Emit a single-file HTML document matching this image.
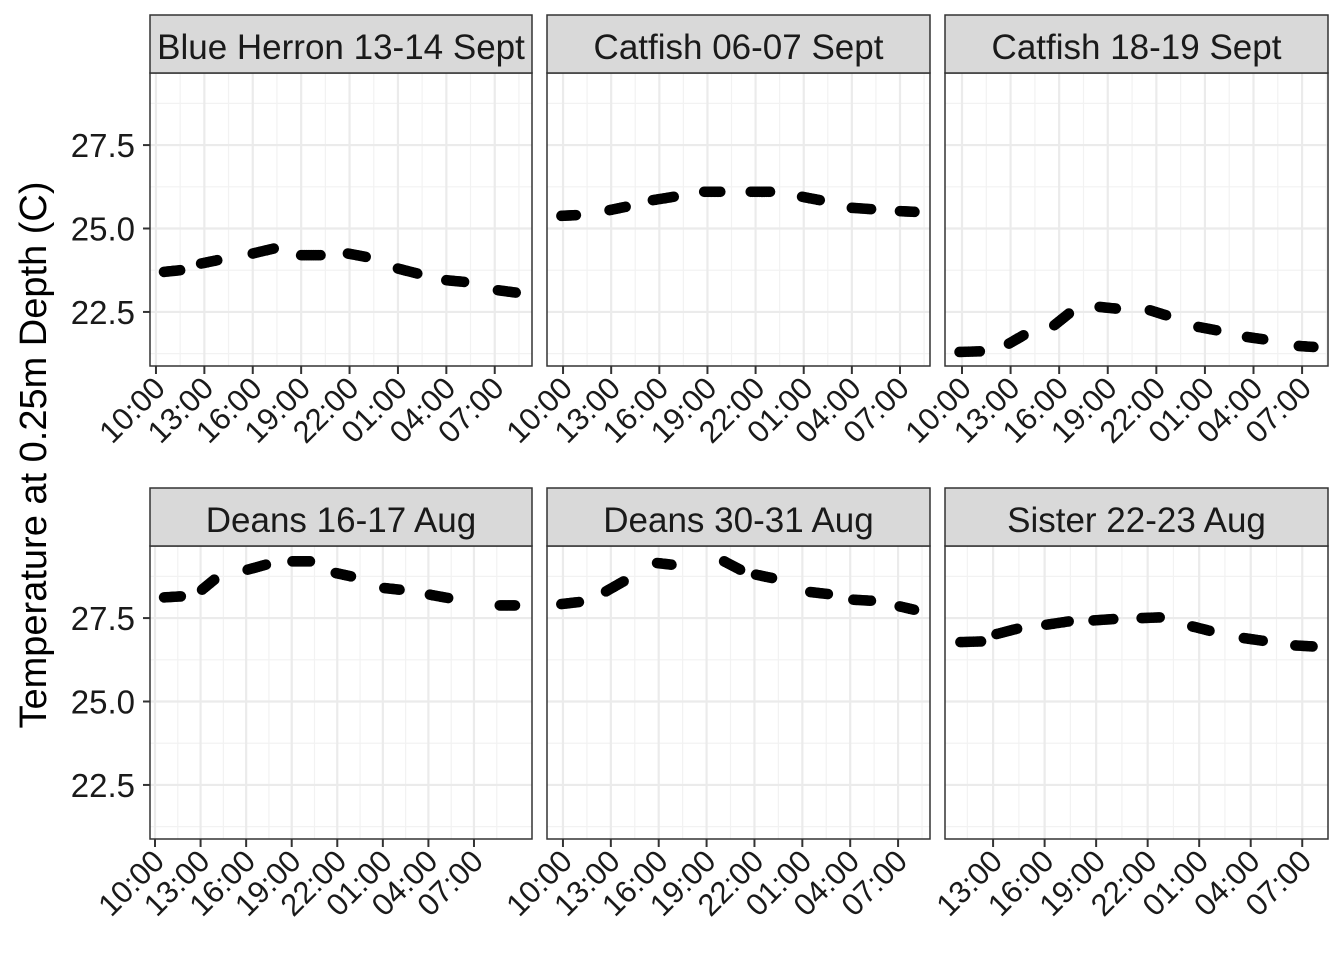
<!DOCTYPE html>
<html><head><meta charset="utf-8"><style>
body{margin:0;background:#fff}
svg{display:block;font-family:"Liberation Sans",Arial,sans-serif}
</style></head><body>
<svg id="chart" width="1344" height="960"></svg>
<script>
const panelTitles=["Blue Herron 13-14 Sept","Catfish 06-07 Sept","Catfish 18-19 Sept","Deans 16-17 Aug","Deans 30-31 Aug","Sister 22-23 Aug"];
const tickLabels=["10:00","13:00","16:00","19:00","22:00","01:00","04:00","07:00"];
const tickHours=[0,3,6,9,12,15,18,21];
const yTicks=[22.5,25.0,27.5];
const yMinor=[21.25,23.75,26.25,28.75];
const yDomain=[20.88,29.66];
const xDomains=[[-0.37,23.31],[-1.0,22.87],[-1.05,22.6],[-0.33,24.82],[-1.0,23.0],[0.2,22.5]];
// clusters: [tStart,tEnd] and [tempStart,tempEnd] per sampling burst (hours since 10:00)
const times1=[[0.5,1.5],[2.8,3.8],[6.0,7.3],[9.0,10.2],[11.9,13.0],[15.0,16.2],[18.0,19.1],[21.2,22.3]];
const temps1=[[23.7,23.75],[23.95,24.05],[24.25,24.4],[24.2,24.2],[24.25,24.15],[23.8,23.65],[23.45,23.4],[23.15,23.08]];
const times2=[[-0.1,0.8],[2.9,3.9],[5.6,6.9],[8.8,9.8],[11.7,12.9],[14.9,16.0],[18.0,19.2],[21.0,21.9]];
const temps2=[[25.38,25.4],[25.55,25.65],[25.85,25.95],[26.1,26.1],[26.1,26.1],[25.95,25.85],[25.62,25.58],[25.52,25.5]];
const times3=[[-0.15,1.1],[2.9,3.8],[5.7,6.6],[8.5,9.5],[11.6,12.6],[14.6,15.7],[17.6,18.6],[20.8,21.7]];
const temps3=[[21.3,21.32],[21.55,21.8],[22.1,22.45],[22.65,22.6],[22.55,22.4],[22.05,21.95],[21.75,21.68],[21.48,21.45]];
const times4=[[0.6,1.7],[3.1,3.9],[6.1,7.3],[9.05,10.2],[11.9,12.9],[15.1,16.1],[18.1,19.3],[22.7,23.7]];
const temps4=[[28.12,28.15],[28.35,28.65],[28.95,29.1],[29.2,29.2],[28.85,28.75],[28.4,28.35],[28.2,28.1],[27.88,27.88]];
const times5=[[-0.1,1.0],[2.7,3.8],[5.9,6.8],[10.1,11.1],[12.1,13.1],[15.5,16.6],[18.2,19.3],[21.1,22.0]];
const temps5=[[27.92,27.98],[28.3,28.6],[29.15,29.1],[29.2,28.95],[28.8,28.7],[28.28,28.22],[28.05,28.02],[27.85,27.75]];
const times6=[[1.1,2.3],[3.2,4.4],[6.1,7.4],[8.85,10.0],[11.65,12.7],[14.6,15.6],[17.6,18.7],[20.6,21.6]];
const temps6=[[26.78,26.8],[27.02,27.18],[27.3,27.4],[27.43,27.47],[27.5,27.52],[27.25,27.12],[26.9,26.82],[26.68,26.65]];
const allTimes=[times1,times2,times3,times4,times5,times6];
const allTemps=[temps1,temps2,temps3,temps4,temps5,temps6];

const NS="http://www.w3.org/2000/svg";
const svg=document.getElementById("chart");
function mk(tag,attrs,parent){const e=document.createElementNS(NS,tag);for(const k in attrs)e.setAttribute(k,attrs[k]);(parent||svg).appendChild(e);return e;}
const colX=[[150,532],[547,930],[945,1328]];
const rowY=[[15,73,366],[488,546,839]];
const yt=mk("text",{x:0,y:0,transform:"translate(46,455) rotate(-90)","text-anchor":"middle","font-size":"38",fill:"#000"});
yt.textContent="Temperature at 0.25m Depth (C)";


for(let p=0;p<6;p++){
  const c=p%3,r=Math.floor(p/3);
  const [x0,x1]=colX[c],[sy,y0,y1]=rowY[r];
  const g=mk("g",{});
  
  
  const [d0,d1]=xDomains[p];
  const xs=t=>x0+(t-d0)/(d1-d0)*(x1-x0);
  const ys=v=>y1-(v-yDomain[0])/(yDomain[1]-yDomain[0])*(y1-y0);
  mk("rect",{x:x0,y:y0,width:x1-x0,height:y1-y0,fill:"#fff"},g);
  yMinor.forEach(v=>mk("line",{x1:x0,x2:x1,y1:ys(v),y2:ys(v),stroke:"#f2f2f2","stroke-width":1.2},g));
  const ticks=tickHours.map((h,i)=>[h,tickLabels[i]]).filter(([h])=>h>=d0&&h<=d1);
  for(let h=-1.5;h<=25;h+=3){if(h>d0&&h<d1)mk("line",{x1:xs(h),x2:xs(h),y1:y0,y2:y1,stroke:"#f2f2f2","stroke-width":1.2},g);}
  yTicks.forEach(v=>mk("line",{x1:x0,x2:x1,y1:ys(v),y2:ys(v),stroke:"#ebebeb","stroke-width":2.2},g));
  ticks.forEach(([h])=>mk("line",{x1:xs(h),x2:xs(h),y1:y0,y2:y1,stroke:"#ebebeb","stroke-width":2.2},g));
  const T=allTimes[p],V=allTemps[p];
  for(let k=0;k<T.length;k++){
    const n=12;
    for(let j=0;j<n;j++){
      const f=j/(n-1);
      const cir=mk("circle",{cx:xs(T[k][0]+(T[k][1]-T[k][0])*f),cy:ys(V[k][0]+(V[k][1]-V[k][0])*f),r:5.3,fill:"#000"},g);
      
      
    }
  }
  mk("rect",{x:x0,y:y0,width:x1-x0,height:y1-y0,fill:"none",stroke:"#333","stroke-width":1.5},g);
  const st=mk("rect",{x:x0,y:sy,width:x1-x0,height:y0-sy,fill:"#d9d9d9",stroke:"#333","stroke-width":1.5},g);
  
  
  const tt=mk("text",{x:(x0+x1)/2,y:sy+44,"text-anchor":"middle","font-size":"35",fill:"#1a1a1a"},g);
  tt.textContent=panelTitles[p];
  
  
  ticks.forEach(([h,l])=>{
    const x=xs(h);
    mk("line",{x1:x,x2:x,y1:y1,y2:y1+8,stroke:"#333","stroke-width":2},g);
    const t=mk("text",{x:0,y:0,transform:`translate(${x+11},${y1+24}) rotate(-45)`,"text-anchor":"end","font-size":"31",fill:"#1a1a1a"},g);
    t.textContent=l;
    
    
  });
  if(c===0){
    yTicks.forEach(v=>{
      mk("line",{x1:x0-7,x2:x0,y1:ys(v),y2:ys(v),stroke:"#333","stroke-width":2},g);
      const t=mk("text",{x:x0-15,y:ys(v)+12,"text-anchor":"end","font-size":"33",fill:"#1a1a1a"},g);
      t.textContent=v.toFixed(1);
      
      
    });
  }
}
</script>
</body></html>
